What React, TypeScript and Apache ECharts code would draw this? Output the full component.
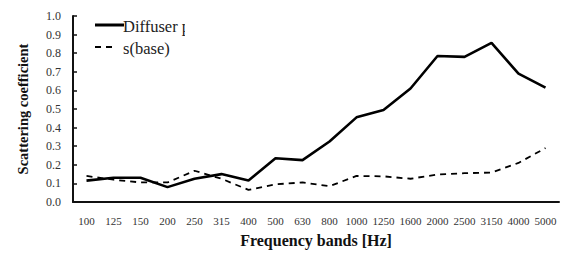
import React, { useEffect, useRef } from "react";
import * as echarts from "echarts";

const categories = ["100","125","150","200","250","315","400","500","630","800","1000","1250","1600","2000","2500","3150","4000","5000"];
const diffuser = [0.115,0.13,0.13,0.08,0.125,0.15,0.115,0.235,0.225,0.325,0.455,0.495,0.61,0.785,0.78,0.855,0.69,0.615];
const base = [0.14,0.12,0.105,0.105,0.168,0.125,0.065,0.095,0.105,0.085,0.14,0.138,0.125,0.148,0.155,0.158,0.21,0.29];
const seriesNames = ["Diffuser p", "s(base)"];

export default function App() {
  const ref = useRef<HTMLDivElement>(null);
  useEffect(() => {
    const chart = echarts.init(ref.current!, null, { renderer: "svg" });
    const font = "Liberation Serif";
    const legendFont = { fontFamily: font, fontSize: 16.5, fill: "#222" };
    chart.setOption({
      animation: false,
      textStyle: { fontFamily: font },
      grid: { left: 73, right: 2, top: 16, bottom: 46 },
      graphic: [
        { type: "line", shape: { x1: 95, y1: 25, x2: 124, y2: 25 }, style: { stroke: "#000", lineWidth: 3 } },
        { type: "text", x: 123, y: 26, style: { text: seriesNames[0], ...legendFont, verticalAlign: "middle", align: "left" } },
        { type: "rect", z: 200, shape: { x: 185, y: 14, width: 12, height: 24 }, style: { fill: "#fff" } },
        { type: "line", shape: { x1: 95, y1: 47, x2: 101, y2: 47 }, style: { stroke: "#000", lineWidth: 2 } },
        { type: "line", shape: { x1: 106, y1: 47, x2: 112, y2: 47 }, style: { stroke: "#000", lineWidth: 2 } },
        { type: "text", x: 123, y: 48, style: { text: seriesNames[1], ...legendFont, verticalAlign: "middle", align: "left" } },
      ],
      xAxis: {
        type: "category",
        data: categories,
        boundaryGap: true,
        axisLine: { lineStyle: { color: "#111", width: 2 } },
        axisTick: { inside: true, length: 4, lineStyle: { color: "#111", width: 1.5 } },
        axisLabel: { fontFamily: font, fontSize: 11, color: "#333", margin: 13, interval: 0 },
        name: "Frequency bands [Hz]",
        nameLocation: "middle",
        nameGap: 30,
        nameTextStyle: { fontFamily: font, fontSize: 16, fontWeight: "bold", color: "#111" },
      },
      yAxis: {
        type: "value",
        min: 0,
        max: 1,
        interval: 0.1,
        splitLine: { show: false },
        axisLine: { show: true, lineStyle: { color: "#111", width: 2 } },
        axisTick: { show: true, inside: true, length: 4, lineStyle: { color: "#111", width: 1.5 } },
        axisLabel: { fontFamily: font, fontSize: 12, color: "#333", margin: 12, formatter: (v: number) => v.toFixed(1) },
        name: "Scattering coefficient",
        nameLocation: "middle",
        nameGap: 43,
        nameTextStyle: { fontFamily: font, fontSize: 14.5, fontWeight: "bold", color: "#111" },
      },
      series: [
        {
          name: seriesNames[0],
          type: "line",
          data: diffuser,
          symbol: "none",
          lineStyle: { color: "#000", width: 2.6, type: "solid" },
          itemStyle: { color: "#000" },
        },
        {
          name: seriesNames[1],
          type: "line",
          data: base,
          symbol: "none",
          lineStyle: { color: "#000", width: 1.8, type: [6, 5] },
          itemStyle: { color: "#000" },
        },
      ],
    });
    return () => chart.dispose();
  }, []);
  return <div ref={ref} style={{ width: 561, height: 253, position: "absolute", left: 0, top: 0 }} />;
}
